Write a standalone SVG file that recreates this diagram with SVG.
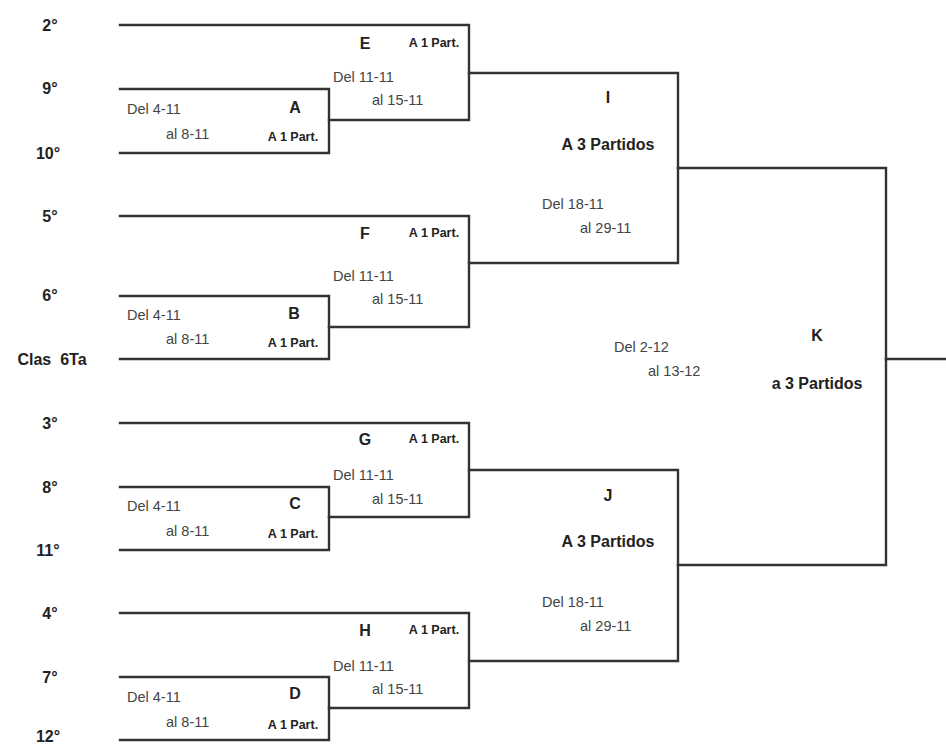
<svg xmlns="http://www.w3.org/2000/svg" width="946" height="747" viewBox="0 0 946 747">
<style>
.ln{fill:none;stroke:#333;stroke-width:2.4;stroke-linejoin:miter;stroke-linecap:square}
.seed{font-family:"Liberation Sans",Arial,sans-serif;font-weight:bold;font-size:16px;fill:#222;text-anchor:middle}
.let{font-family:"Liberation Sans",Arial,sans-serif;font-weight:bold;font-size:16px;fill:#222;text-anchor:middle}
.part{font-family:"Liberation Sans",Arial,sans-serif;font-weight:bold;font-size:12.5px;fill:#222;text-anchor:middle}
.big{font-family:"Liberation Sans",Arial,sans-serif;font-weight:bold;font-size:16px;fill:#222;text-anchor:middle}
.dt{font-family:"Liberation Sans",Arial,sans-serif;font-size:14.5px;fill:#444}
</style>
<rect width="946" height="747" fill="#fff"/>
<g id="connectors">
<path class="ln" d="M120,25 H469 V120 H329"/>
<path class="ln" d="M120,89 H329 V153 H120"/>
<path class="ln" d="M469,73 H678 V263 H469"/>
<path class="ln" d="M120,216 H469 V327 H329"/>
<path class="ln" d="M120,296 H329 V359 H120"/>
<path class="ln" d="M678,168 H886 V565 H678"/>
<path class="ln" d="M886,359 H947"/>
<path class="ln" d="M120,423 H469 V517 H329"/>
<path class="ln" d="M120,487 H329 V550 H120"/>
<path class="ln" d="M469,470 H678 V661 H469"/>
<path class="ln" d="M120,613 H469 V708 H329"/>
<path class="ln" d="M120,677 H329 V740 H120"/>
</g>
<g id="seeds">
<text class="seed" x="50" y="31">2°</text>
<text class="seed" x="50" y="94">9°</text>
<text class="seed" x="48" y="159">10°</text>
<text class="seed" x="50" y="222">5°</text>
<text class="seed" x="50" y="301">6°</text>
<text class="seed" x="52" y="365">Clas&#160; 6Ta</text>
<text class="seed" x="50" y="429">3°</text>
<text class="seed" x="50" y="493">8°</text>
<text class="seed" x="48" y="556">11°</text>
<text class="seed" x="50" y="619">4°</text>
<text class="seed" x="50" y="683">7°</text>
<text class="seed" x="48" y="742">12°</text>
</g>
<g id="match-A">
<text class="let" x="295" y="113">A</text>
<text class="part" x="293" y="141">A 1 Part.</text>
<text class="dt" x="127" y="114">Del 4-11</text>
<text class="dt" x="166" y="139">al 8-11</text>
</g>
<g id="match-B">
<text class="let" x="294" y="319">B</text>
<text class="part" x="293" y="347">A 1 Part.</text>
<text class="dt" x="127" y="320">Del 4-11</text>
<text class="dt" x="166" y="344">al 8-11</text>
</g>
<g id="match-C">
<text class="let" x="295" y="509">C</text>
<text class="part" x="293" y="538">A 1 Part.</text>
<text class="dt" x="127" y="511">Del 4-11</text>
<text class="dt" x="166" y="536">al 8-11</text>
</g>
<g id="match-D">
<text class="let" x="295" y="699">D</text>
<text class="part" x="293" y="729">A 1 Part.</text>
<text class="dt" x="127" y="702">Del 4-11</text>
<text class="dt" x="166" y="727">al 8-11</text>
</g>
<g id="match-E">
<text class="let" x="365" y="49">E</text>
<text class="part" x="434" y="47">A 1 Part.</text>
<text class="dt" x="333" y="82">Del 11-11</text>
<text class="dt" x="372" y="105">al 15-11</text>
</g>
<g id="match-F">
<text class="let" x="365" y="239">F</text>
<text class="part" x="434" y="237">A 1 Part.</text>
<text class="dt" x="333" y="281">Del 11-11</text>
<text class="dt" x="372" y="304">al 15-11</text>
</g>
<g id="match-G">
<text class="let" x="365" y="445">G</text>
<text class="part" x="434" y="443">A 1 Part.</text>
<text class="dt" x="333" y="480">Del 11-11</text>
<text class="dt" x="372" y="504">al 15-11</text>
</g>
<g id="match-H">
<text class="let" x="365" y="636">H</text>
<text class="part" x="434" y="634">A 1 Part.</text>
<text class="dt" x="333" y="671">Del 11-11</text>
<text class="dt" x="372" y="694">al 15-11</text>
</g>
<g id="match-I">
<text class="let" x="608" y="103">I</text>
<text class="big" x="608" y="150">A 3 Partidos</text>
<text class="dt" x="542" y="209">Del 18-11</text>
<text class="dt" x="580" y="233">al 29-11</text>
</g>
<g id="match-J">
<text class="let" x="608" y="501">J</text>
<text class="big" x="608" y="547">A 3 Partidos</text>
<text class="dt" x="542" y="607">Del 18-11</text>
<text class="dt" x="580" y="631">al 29-11</text>
</g>
<g id="match-K">
<text class="let" x="817" y="341">K</text>
<text class="big" x="817" y="389">a 3 Partidos</text>
<text class="dt" x="614" y="352">Del 2-12</text>
<text class="dt" x="648" y="376">al 13-12</text>
</g>
</svg>
